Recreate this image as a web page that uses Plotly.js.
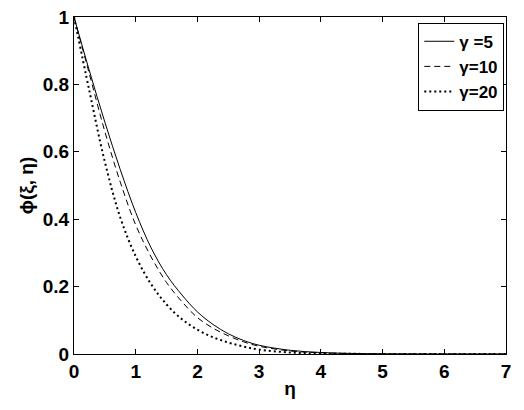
<!DOCTYPE html>
<html>
<head>
<meta charset="utf-8">
<script src="https://cdn.plot.ly/plotly-3.0.1.min.js"></script>
<style>
  html, body { margin: 0; padding: 0; background: #fff; }
  #chart { width: 524px; height: 410px; }
</style>
</head>
<body>
<div id="chart"></div>
<script>
var eta = [0, 0.25, 0.5, 0.75, 1, 1.25, 1.5, 1.75, 2, 2.25, 2.5, 2.75, 3, 3.5, 4, 4.5, 5, 6, 7];

var phi_g5 = [1, 0.84, 0.688, 0.547, 0.42, 0.315, 0.235, 0.175, 0.125, 0.088, 0.06, 0.04, 0.026, 0.011, 0.0045, 0.0017, 0.0006, 0.0001, 0];
var phi_g10 = [1, 0.83, 0.66, 0.51, 0.383, 0.288, 0.212, 0.155, 0.108, 0.077, 0.054, 0.036, 0.023, 0.009, 0.0035, 0.0012, 0.0004, 0.0001, 0];
var phi_g20 = [1, 0.78, 0.57, 0.405, 0.29, 0.207, 0.147, 0.103, 0.072, 0.05, 0.034, 0.022, 0.013, 0.0045, 0.0015, 0.0005, 0.0002, 0, 0];

var names = ['\u03b3 =5', '\u03b3=10', '\u03b3=20'];

var font = {family: 'Liberation Sans, Arial, sans-serif', size: 19, color: '#000', weight: 'bold'};
var legendFont = {family: 'Liberation Sans, Arial, sans-serif', size: 17, color: '#000', weight: 'bold'};

var data = [
    {
        x: eta, y: phi_g5, name: names[0], mode: 'lines',
        line: {color: '#000', width: 1, shape: 'spline'}
    },
    {
        x: eta, y: phi_g10, name: names[1], mode: 'lines',
        line: {color: '#000', width: 1, dash: '6px,4px', shape: 'spline'}
    },
    {
        x: eta, y: phi_g20, name: names[2], mode: 'lines',
        line: {color: '#000', width: 2, dash: '2px,3px', shape: 'spline'}
    }
];

var axis = {
    showgrid: false,
    zeroline: false,
    showline: true,
    linecolor: '#000',
    linewidth: 1,
    mirror: 'ticks',
    ticks: 'inside',
    ticklen: 5,
    tickcolor: '#000',
    tickfont: font
};

var layout = {
    width: 524,
    height: 410,
    margin: {l: 74, r: 18, t: 17, b: 56},
    paper_bgcolor: '#fff',
    plot_bgcolor: '#fff',
    font: font,
    showlegend: true,
    legend: {
        x: 0.996, y: 0.983, xanchor: 'right', yanchor: 'top',
        bordercolor: '#000', borderwidth: 1, bgcolor: '#fff',
        font: legendFont
    },
    xaxis: Object.assign({}, axis, {
        range: [0, 7], dtick: 1, tick0: 0,
        title: {text: '\u03b7', font: font, standoff: 0}
    }),
    yaxis: Object.assign({}, axis, {
        range: [0, 1], dtick: 0.2, tick0: 0,
        title: {text: '\u03d5(\u03be, \u03b7)', font: font, standoff: 4}
    })
};

Plotly.newPlot('chart', data, layout, {displayModeBar: false, staticPlot: true});
</script>
</body>
</html>
